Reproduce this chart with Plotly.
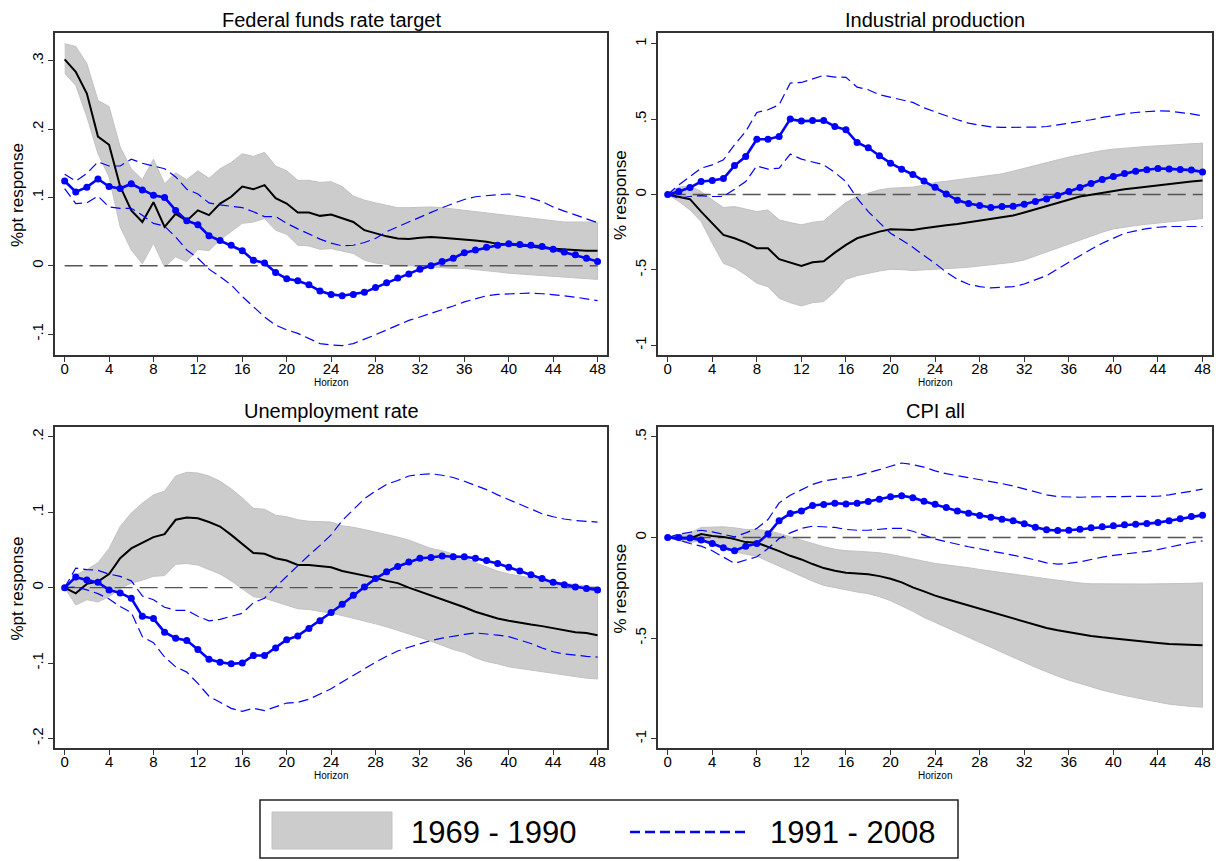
import plotly.graph_objects as go

# page is rendered with an 8px body margin; figure is sized/offset to compensate
OFF = 8
W, H_ = 1222 - OFF, 861 - OFF
horizon = list(range(49))

# ---------------- Federal funds rate target ----------------
ffr_old_pt = [0.302, 0.284, 0.252, 0.189, 0.177, 0.116, 0.081, 0.064, 0.093, 0.057, 0.076, 0.066, 0.081, 0.074, 0.091, 0.101, 0.116, 0.112, 0.118, 0.099, 0.091, 0.078, 0.078, 0.073, 0.075, 0.070, 0.064, 0.052, 0.047, 0.043, 0.040, 0.039, 0.041, 0.042, 0.041, 0.040, 0.039, 0.037, 0.035, 0.032, 0.031, 0.030, 0.028, 0.026, 0.025, 0.023, 0.022, 0.022, 0.022]
ffr_old_hi = [0.325, 0.321, 0.296, 0.242, 0.233, 0.174, 0.142, 0.126, 0.156, 0.120, 0.136, 0.126, 0.139, 0.128, 0.142, 0.151, 0.164, 0.160, 0.166, 0.146, 0.139, 0.125, 0.125, 0.122, 0.123, 0.116, 0.102, 0.096, 0.092, 0.089, 0.085, 0.085, 0.086, 0.086, 0.085, 0.083, 0.081, 0.079, 0.077, 0.075, 0.073, 0.071, 0.069, 0.067, 0.065, 0.064, 0.064, 0.064, 0.064]
ffr_old_lo = [0.282, 0.264, 0.218, 0.164, 0.130, 0.057, 0.023, 0.003, 0.033, -0.002, 0.013, 0.006, 0.024, 0.022, 0.038, 0.050, 0.062, 0.064, 0.069, 0.052, 0.046, 0.030, 0.029, 0.024, 0.025, 0.022, 0.018, 0.008, 0.004, 0.002, 0.000, -0.001, -0.002, -0.003, -0.003, -0.004, -0.004, -0.005, -0.007, -0.009, -0.011, -0.012, -0.013, -0.015, -0.016, -0.017, -0.018, -0.019, -0.020]
ffr_new_pt = [0.124, 0.108, 0.115, 0.127, 0.116, 0.113, 0.120, 0.111, 0.103, 0.100, 0.081, 0.066, 0.060, 0.044, 0.037, 0.030, 0.022, 0.008, 0.004, -0.010, -0.019, -0.022, -0.028, -0.037, -0.042, -0.044, -0.042, -0.039, -0.032, -0.025, -0.018, -0.012, -0.005, 0.000, 0.006, 0.011, 0.019, 0.023, 0.027, 0.030, 0.032, 0.031, 0.030, 0.028, 0.024, 0.020, 0.016, 0.011, 0.006]
ffr_new_hi = [0.134, 0.124, 0.135, 0.152, 0.146, 0.146, 0.156, 0.150, 0.146, 0.142, 0.130, 0.112, 0.105, 0.092, 0.089, 0.087, 0.085, 0.079, 0.072, 0.072, 0.062, 0.054, 0.046, 0.039, 0.033, 0.029, 0.030, 0.034, 0.040, 0.050, 0.057, 0.064, 0.072, 0.079, 0.085, 0.091, 0.097, 0.101, 0.103, 0.104, 0.105, 0.102, 0.099, 0.094, 0.086, 0.080, 0.074, 0.069, 0.063]
ffr_new_lo = [0.113, 0.091, 0.092, 0.102, 0.086, 0.084, 0.084, 0.074, 0.062, 0.058, 0.042, 0.023, 0.011, -0.005, -0.016, -0.028, -0.045, -0.060, -0.075, -0.087, -0.094, -0.099, -0.106, -0.114, -0.116, -0.117, -0.114, -0.108, -0.101, -0.094, -0.087, -0.080, -0.075, -0.070, -0.065, -0.059, -0.053, -0.048, -0.044, -0.042, -0.041, -0.041, -0.040, -0.041, -0.042, -0.044, -0.046, -0.049, -0.051]

# ---------------- Industrial production ----------------
ip_old_pt = [0, -0.013, -0.031, -0.113, -0.190, -0.268, -0.290, -0.319, -0.356, -0.356, -0.429, -0.451, -0.473, -0.449, -0.442, -0.385, -0.334, -0.290, -0.268, -0.246, -0.230, -0.230, -0.235, -0.223, -0.212, -0.204, -0.195, -0.184, -0.175, -0.166, -0.155, -0.139, -0.119, -0.097, -0.075, -0.053, -0.031, -0.013, -0.002, 0.011, 0.027, 0.035, 0.044, 0.053, 0.062, 0.071, 0.080, 0.086, 0.093]
ip_old_hi = [0, 0.049, 0.058, 0.020, -0.035, -0.086, -0.080, -0.097, -0.113, -0.102, -0.168, -0.186, -0.201, -0.184, -0.175, -0.113, -0.053, -0.013, 0.009, 0.031, 0.042, 0.044, 0.049, 0.062, 0.080, 0.088, 0.097, 0.108, 0.119, 0.128, 0.137, 0.155, 0.175, 0.195, 0.212, 0.230, 0.248, 0.263, 0.279, 0.292, 0.301, 0.308, 0.314, 0.319, 0.323, 0.327, 0.332, 0.336, 0.341]
ip_old_lo = [0, -0.046, -0.102, -0.179, -0.323, -0.456, -0.485, -0.533, -0.588, -0.611, -0.688, -0.717, -0.739, -0.717, -0.710, -0.644, -0.562, -0.538, -0.522, -0.507, -0.496, -0.498, -0.504, -0.500, -0.496, -0.491, -0.487, -0.482, -0.476, -0.467, -0.458, -0.449, -0.434, -0.412, -0.385, -0.358, -0.330, -0.303, -0.277, -0.250, -0.228, -0.217, -0.206, -0.197, -0.188, -0.179, -0.173, -0.166, -0.159]
ip_new_pt = [0, 0.020, 0.046, 0.086, 0.093, 0.106, 0.192, 0.252, 0.367, 0.367, 0.385, 0.500, 0.487, 0.491, 0.491, 0.451, 0.429, 0.345, 0.310, 0.257, 0.208, 0.168, 0.133, 0.089, 0.049, 0.004, -0.038, -0.060, -0.073, -0.086, -0.080, -0.077, -0.064, -0.046, -0.029, -0.007, 0.020, 0.046, 0.073, 0.100, 0.119, 0.139, 0.155, 0.164, 0.173, 0.170, 0.166, 0.162, 0.150]
ip_new_hi = [0, 0.064, 0.119, 0.175, 0.197, 0.230, 0.330, 0.418, 0.544, 0.562, 0.595, 0.739, 0.743, 0.765, 0.790, 0.779, 0.777, 0.712, 0.695, 0.662, 0.644, 0.628, 0.611, 0.575, 0.551, 0.522, 0.496, 0.473, 0.460, 0.449, 0.445, 0.445, 0.445, 0.447, 0.451, 0.462, 0.471, 0.482, 0.496, 0.511, 0.524, 0.535, 0.544, 0.551, 0.555, 0.553, 0.546, 0.535, 0.522]
ip_new_lo = [0, -0.024, -0.013, -0.007, -0.013, -0.013, 0.035, 0.086, 0.190, 0.168, 0.175, 0.268, 0.235, 0.215, 0.197, 0.146, 0.086, -0.024, -0.113, -0.186, -0.257, -0.301, -0.350, -0.405, -0.456, -0.515, -0.562, -0.595, -0.611, -0.619, -0.617, -0.611, -0.593, -0.566, -0.538, -0.493, -0.449, -0.405, -0.363, -0.323, -0.290, -0.257, -0.241, -0.226, -0.217, -0.212, -0.212, -0.212, -0.212]

# ---------------- Unemployment rate ----------------
ur_old_pt = [0, -0.0075, 0.005, 0.008, 0.018, 0.039, 0.052, 0.060, 0.067, 0.071, 0.090, 0.093, 0.092, 0.087, 0.081, 0.070, 0.058, 0.046, 0.045, 0.039, 0.036, 0.030, 0.030, 0.028, 0.027, 0.022, 0.019, 0.016, 0.013, 0.009, 0.006, 0.000, -0.005, -0.011, -0.016, -0.021, -0.026, -0.032, -0.037, -0.041, -0.044, -0.047, -0.049, -0.051, -0.054, -0.056, -0.059, -0.060, -0.063]
ur_old_hi = [0, 0.017, 0.024, 0.033, 0.052, 0.081, 0.099, 0.112, 0.123, 0.128, 0.148, 0.153, 0.152, 0.148, 0.141, 0.131, 0.119, 0.105, 0.104, 0.096, 0.094, 0.090, 0.088, 0.087, 0.087, 0.082, 0.080, 0.077, 0.074, 0.071, 0.067, 0.063, 0.058, 0.052, 0.049, 0.045, 0.040, 0.033, 0.027, 0.022, 0.018, 0.015, 0.013, 0.010, 0.008, 0.006, 0.004, 0.002, 0.001]
ur_old_lo = [0, -0.023, -0.016, -0.019, -0.012, -0.001, 0.006, 0.010, 0.015, 0.016, 0.031, 0.032, 0.030, 0.024, 0.018, 0.009, -0.001, -0.012, -0.014, -0.019, -0.023, -0.028, -0.029, -0.031, -0.034, -0.037, -0.041, -0.044, -0.048, -0.052, -0.056, -0.061, -0.066, -0.071, -0.076, -0.082, -0.086, -0.093, -0.098, -0.101, -0.105, -0.107, -0.109, -0.111, -0.113, -0.116, -0.118, -0.120, -0.121]
ur_new_pt = [0, 0.014, 0.010, 0.007, -0.003, -0.007, -0.014, -0.038, -0.041, -0.059, -0.067, -0.070, -0.082, -0.095, -0.099, -0.101, -0.100, -0.090, -0.090, -0.080, -0.069, -0.064, -0.054, -0.044, -0.033, -0.022, -0.010, 0.001, 0.012, 0.021, 0.028, 0.034, 0.039, 0.040, 0.042, 0.041, 0.041, 0.039, 0.036, 0.032, 0.027, 0.022, 0.017, 0.012, 0.007, 0.004, 0.001, -0.001, -0.003]
ur_new_hi = [0, 0.026, 0.024, 0.023, 0.018, 0.015, 0.009, -0.011, -0.016, -0.026, -0.030, -0.030, -0.038, -0.044, -0.042, -0.038, -0.034, -0.020, -0.014, 0.001, 0.015, 0.030, 0.043, 0.056, 0.070, 0.089, 0.104, 0.118, 0.128, 0.137, 0.142, 0.148, 0.150, 0.151, 0.149, 0.146, 0.141, 0.136, 0.130, 0.123, 0.117, 0.110, 0.104, 0.098, 0.094, 0.091, 0.089, 0.088, 0.087]
ur_new_lo = [0, 0.001, -0.003, -0.008, -0.015, -0.025, -0.033, -0.065, -0.073, -0.092, -0.105, -0.112, -0.127, -0.144, -0.152, -0.160, -0.164, -0.160, -0.163, -0.158, -0.153, -0.152, -0.148, -0.141, -0.134, -0.125, -0.116, -0.107, -0.099, -0.091, -0.084, -0.079, -0.074, -0.070, -0.067, -0.064, -0.062, -0.060, -0.061, -0.063, -0.065, -0.069, -0.074, -0.080, -0.085, -0.088, -0.090, -0.091, -0.092]

# ---------------- CPI all ----------------
cpi_old_pt = [0, -0.005, -0.005, 0.017, 0.007, 0.003, -0.008, -0.023, -0.026, -0.046, -0.068, -0.091, -0.109, -0.132, -0.152, -0.165, -0.175, -0.179, -0.183, -0.192, -0.205, -0.223, -0.248, -0.268, -0.289, -0.306, -0.322, -0.339, -0.355, -0.372, -0.388, -0.405, -0.420, -0.435, -0.450, -0.461, -0.471, -0.481, -0.489, -0.496, -0.502, -0.509, -0.514, -0.519, -0.524, -0.529, -0.532, -0.534, -0.536]
cpi_old_hi = [0, 0.012, 0.023, 0.050, 0.050, 0.053, 0.048, 0.040, 0.040, 0.033, 0.020, 0.003, -0.013, -0.030, -0.046, -0.058, -0.066, -0.068, -0.071, -0.076, -0.084, -0.096, -0.108, -0.119, -0.129, -0.136, -0.142, -0.150, -0.159, -0.165, -0.174, -0.182, -0.188, -0.197, -0.205, -0.213, -0.221, -0.226, -0.230, -0.231, -0.231, -0.231, -0.231, -0.231, -0.231, -0.231, -0.230, -0.228, -0.225]
cpi_old_lo = [0, -0.017, -0.025, -0.017, -0.038, -0.055, -0.071, -0.083, -0.093, -0.116, -0.142, -0.167, -0.192, -0.217, -0.238, -0.251, -0.261, -0.271, -0.279, -0.294, -0.314, -0.339, -0.367, -0.397, -0.418, -0.445, -0.469, -0.496, -0.521, -0.545, -0.570, -0.595, -0.620, -0.645, -0.668, -0.689, -0.709, -0.726, -0.742, -0.759, -0.772, -0.785, -0.798, -0.808, -0.818, -0.828, -0.835, -0.840, -0.843]
cpi_new_pt = [0, 0, -0.003, -0.013, -0.030, -0.051, -0.066, -0.043, -0.030, 0.017, 0.083, 0.119, 0.132, 0.159, 0.164, 0.170, 0.167, 0.170, 0.179, 0.190, 0.202, 0.207, 0.198, 0.180, 0.165, 0.149, 0.132, 0.121, 0.109, 0.101, 0.091, 0.083, 0.068, 0.051, 0.038, 0.035, 0.036, 0.041, 0.048, 0.053, 0.058, 0.063, 0.066, 0.069, 0.074, 0.083, 0.093, 0.104, 0.111]
cpi_new_hi = [0, 0.017, 0.026, 0.036, 0.028, 0.017, 0.003, 0.023, 0.045, 0.089, 0.172, 0.210, 0.235, 0.264, 0.281, 0.291, 0.298, 0.307, 0.321, 0.337, 0.354, 0.370, 0.362, 0.350, 0.331, 0.317, 0.307, 0.298, 0.288, 0.278, 0.268, 0.256, 0.241, 0.226, 0.212, 0.203, 0.200, 0.200, 0.202, 0.203, 0.203, 0.205, 0.205, 0.205, 0.205, 0.212, 0.220, 0.230, 0.240]
cpi_new_lo = [0, -0.013, -0.030, -0.043, -0.066, -0.096, -0.129, -0.112, -0.096, -0.055, -0.005, 0.023, 0.045, 0.056, 0.053, 0.050, 0.040, 0.036, 0.036, 0.040, 0.045, 0.045, 0.031, 0.012, -0.008, -0.021, -0.035, -0.046, -0.056, -0.066, -0.076, -0.086, -0.099, -0.112, -0.126, -0.132, -0.129, -0.121, -0.109, -0.098, -0.089, -0.083, -0.076, -0.069, -0.060, -0.048, -0.036, -0.025, -0.017]

titles = ["Federal funds rate target", "Industrial production", "Unemployment rate", "CPI all"]
ytitles = ["%pt response", "% response", "%pt response", "% response"]
ytickvals = [[-0.1, 0, 0.1, 0.2, 0.3], [-1, -0.5, 0, 0.5, 1], [-0.2, -0.1, 0, 0.1, 0.2], [-1, -0.5, 0, 0.5]]
yticktext = [["-.1", "0", ".1", ".2", ".3"], ["-1", "-.5", "0", ".5", "1"], ["-.2", "-.1", "0", ".1", ".2"], ["-1", "-.5", "0", ".5"]]
xticks = list(range(0, 49, 4))
legend_labels = ["1969 - 1990", "1991 - 2008"]

panels = [
    (ffr_old_pt, ffr_old_hi, ffr_old_lo, ffr_new_pt, ffr_new_hi, ffr_new_lo),
    (ip_old_pt, ip_old_hi, ip_old_lo, ip_new_pt, ip_new_hi, ip_new_lo),
    (ur_old_pt, ur_old_hi, ur_old_lo, ur_new_pt, ur_new_hi, ur_new_lo),
    (cpi_old_pt, cpi_old_hi, cpi_old_lo, cpi_new_pt, cpi_new_hi, cpi_new_lo),
]

# layout geometry (page pixels)
plot_px = [(55, 607, 33, 355), (658, 1212, 33, 355), (55, 607, 427, 748), (658, 1212, 427, 748)]
title_y = [20, 20, 411, 411]
yranges = [[-0.1307, 0.3407], [-1.064, 1.071], [-0.2126, 0.213], [-1.046, 0.549]]
xrange_ = [-0.87, 48.85]


def PX(x):
    return (x - OFF) / W


def PY(y):
    return 1 - (y - OFF) / H_


FONT = "Liberation Sans, Arial, Helvetica, sans-serif"
BAND = "#cccccc"
BLUE = "#0000ff"

fig = go.Figure()
annotations = []
shapes = []

for i, (opt, ohi, olo, npt, nhi, nlo) in enumerate(panels):
    k = "" if i == 0 else str(i + 1)
    xa, ya = "x" + k, "y" + k
    x0, x1, y0, y1 = plot_px[i]
    fig.add_trace(go.Scatter(x=horizon + horizon[::-1], y=ohi + olo[::-1], xaxis=xa, yaxis=ya,
                             fill="toself", fillcolor=BAND, mode="lines",
                             line=dict(color="#c2c2c2", width=1), hoverinfo="skip", showlegend=False))
    fig.add_trace(go.Scatter(x=[0, 48], y=[0, 0], xaxis=xa, yaxis=ya, mode="lines",
                             line=dict(color="#555555", width=1.4, dash="18px,7px"),
                             hoverinfo="skip", showlegend=False))
    fig.add_trace(go.Scatter(x=horizon, y=opt, xaxis=xa, yaxis=ya, mode="lines",
                             line=dict(color="black", width=2), showlegend=False))
    for band in (nhi, nlo):
        fig.add_trace(go.Scatter(x=horizon, y=band, xaxis=xa, yaxis=ya, mode="lines",
                                 line=dict(color=BLUE, width=1.2, dash="10px,5px"), showlegend=False))
    fig.add_trace(go.Scatter(x=horizon, y=npt, xaxis=xa, yaxis=ya, mode="lines+markers",
                             line=dict(color=BLUE, width=2.6), marker=dict(color=BLUE, size=7),
                             showlegend=False))

    axis_common = dict(showline=True, mirror=True, linecolor="#333333", linewidth=1.5,
                       ticks="outside", ticklen=5, tickwidth=1.3, tickcolor="#333333",
                       showgrid=False, zeroline=False,
                       tickfont=dict(family=FONT, size=15, color="black"))
    fig.layout["xaxis" + k] = dict(domain=[PX(x0), PX(x1)], anchor=ya, range=xrange_,
                                   tickmode="array", tickvals=xticks, ticktext=[str(t) for t in xticks],
                                   ticklabelstandoff=-6, **axis_common)
    fig.layout["yaxis" + k] = dict(domain=[PY(y1), PY(y0)], anchor=xa, range=yranges[i],
                                   tickmode="array", tickvals=ytickvals[i], ticktext=yticktext[i],
                                   tickangle=-90, ticklabelstandoff=-1, **axis_common)

    cx = (x0 + x1) / 2
    annotations.append(dict(text=titles[i], x=PX(cx), y=PY(title_y[i]), xref="paper", yref="paper",
                            showarrow=False, xanchor="center", yanchor="middle",
                            font=dict(family=FONT, size=20, color="black")))
    annotations.append(dict(text="Horizon", x=PX(cx), y=PY(y1 + 27), xref="paper", yref="paper",
                            showarrow=False, xanchor="center", yanchor="middle",
                            font=dict(family=FONT, size=10, color="black")))
    annotations.append(dict(text=ytitles[i], x=PX(x0 - 38), y=PY((y0 + y1) / 2 + 1), xref="paper", yref="paper",
                            showarrow=False, xanchor="center", yanchor="middle", textangle=-90,
                            font=dict(family=FONT, size=17, color="black")))

# legend box (drawn)
shapes.append(dict(type="rect", xref="paper", yref="paper", x0=PX(260), x1=PX(958), y0=PY(858), y1=PY(800),
                   line=dict(color="#222222", width=1.5), fillcolor="white", layer="above"))
shapes.append(dict(type="rect", xref="paper", yref="paper", x0=PX(272), x1=PX(392), y0=PY(849), y1=PY(812),
                   line=dict(color="#c2c2c2", width=1), fillcolor=BAND, layer="above"))
shapes.append(dict(type="line", xref="paper", yref="paper", x0=PX(630), x1=PX(750), y0=PY(832), y1=PY(832),
                   line=dict(color=BLUE, width=2.5, dash="10px,5px"), layer="above"))
annotations.append(dict(text=legend_labels[0], x=PX(493), y=PY(832), xref="paper", yref="paper",
                        showarrow=False, xanchor="center", yanchor="middle",
                        font=dict(family=FONT, size=31, color="black")))
annotations.append(dict(text=legend_labels[1], x=PX(852), y=PY(832), xref="paper", yref="paper",
                        showarrow=False, xanchor="center", yanchor="middle",
                        font=dict(family=FONT, size=31, color="black")))

fig.update_layout(width=W, height=H_, margin=dict(l=0, r=0, t=0, b=0), autosize=False,
                  paper_bgcolor="white", plot_bgcolor="white", showlegend=False,
                  annotations=annotations, shapes=shapes, font=dict(family=FONT))

fig.write_html("out.html")
